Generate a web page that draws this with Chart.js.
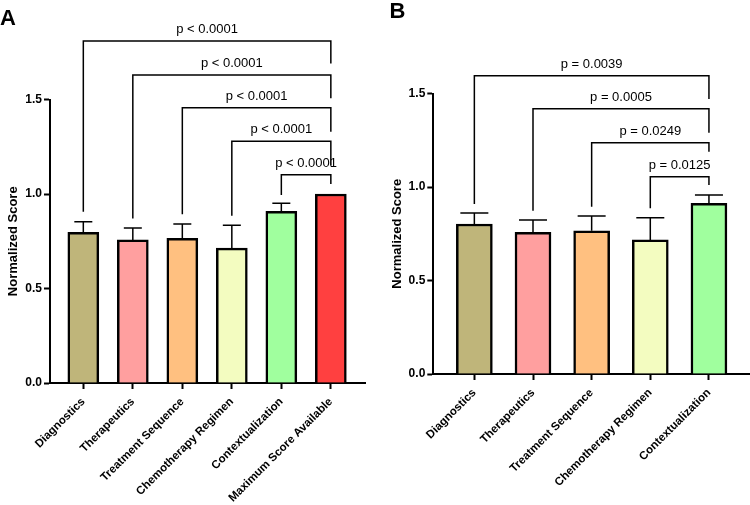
<!DOCTYPE html>
<html><head><meta charset="utf-8">
<script src="https://cdn.jsdelivr.net/npm/chart.js@4.4.1/dist/chart.umd.min.js"></script>
<style>
html,body{margin:0;padding:0;background:#fff;}
#wrap{position:relative;width:750px;height:505px;overflow:hidden;}
.pane{position:absolute;top:0;width:375px;height:505px;}
#pa{left:0;} #pb{left:375px;}
.lbl{position:absolute;font:bold 22px "Liberation Sans",Arial,sans-serif;line-height:22px;color:#000;}
</style></head>
<body><div id="wrap">
<div class="pane" id="pa"><canvas id="ca" width="375" height="505"></canvas></div>
<div class="pane" id="pb"><canvas id="cb" width="375" height="505"></canvas></div>
<div class="lbl" style="left:0;top:6.5px">A</div>
<div class="lbl" style="left:389.5px;top:0">B</div>
</div>
<script>
const FONT = '"Liberation Sans", Arial, sans-serif';

// ---- Panel A data ----
const categoriesA = ['Diagnostics','Therapeutics','Treatment Sequence','Chemotherapy Regimen','Contextualization','Maximum Score Available'];
const meansA = [0.797, 0.757, 0.766, 0.714, 0.908, 1.0];
const sdA    = [0.056, 0.063, 0.075, 0.120, 0.043, 0];
const colorsA = ['#bfb57a','#ff9f9f','#ffc080','#f3fcc0','#a0ff9e','#ff4040'];
const bracketFromA = [0, 1, 2, 3, 4];
const bracketToA   = [5, 5, 5, 5, 5];
const bracketLevelA = [1.81, 1.63, 1.457, 1.279, 1.102];
const bracketLeftEndA = [0.906, 0.871, 0.893, 0.885, 0.995];
const bracketRightEndA = [1.691, 1.506, 1.330, 1.150, 1.053];
const pLabelsA = ['p < 0.0001','p < 0.0001','p < 0.0001','p < 0.0001','p < 0.0001'];

// ---- Panel B data ----
const categoriesB = ['Diagnostics','Therapeutics','Treatment Sequence','Chemotherapy Regimen','Contextualization'];
const meansB = [0.802, 0.758, 0.766, 0.717, 0.913];
const sdB    = [0.059, 0.066, 0.079, 0.119, 0.044];
const colorsB = ['#bfb57a','#ff9f9f','#ffc080','#f3fcc0','#a0ff9e'];
const bracketFromB = [0, 1, 2, 3];
const bracketToB   = [4, 4, 4, 4];
const bracketLevelB = [1.595, 1.419, 1.237, 1.055];
const bracketLeftEndB = [0.909, 0.873, 0.895, 0.886];
const bracketRightEndB = [1.471, 1.290, 1.189, 1.011];
const pLabelsB = ['p = 0.0039','p = 0.0005','p = 0.0249','p = 0.0125'];

const yTickValues = [0, 0.5, 1.0, 1.5];

const annot = {
  id: 'annot',
  afterDatasetsDraw(chart, args, o) {
    const {ctx} = chart; const x = chart.scales.x, y = chart.scales.y;
    ctx.save();
    ctx.strokeStyle = '#000'; ctx.lineWidth = 1.5; ctx.lineCap = 'butt'; ctx.lineJoin = 'miter';
    o.means.forEach((m, i) => {
      if (!o.sds[i]) return;
      const px = x.getPixelForValue(i), y0 = y.getPixelForValue(m), y1 = y.getPixelForValue(m + o.sds[i]);
      ctx.beginPath();
      ctx.moveTo(px, y0); ctx.lineTo(px, y1);
      ctx.moveTo(px - o.capW / 2, y1); ctx.lineTo(px + o.capW / 2, y1);
      ctx.stroke();
    });
    ctx.font = '13px ' + FONT; ctx.fillStyle = '#000'; ctx.textAlign = 'center'; ctx.textBaseline = 'alphabetic';
    o.from.forEach((f, k) => {
      const xl = x.getPixelForValue(f), xr = x.getPixelForValue(o.to[k]);
      const yl = y.getPixelForValue(o.level[k]);
      ctx.beginPath();
      ctx.moveTo(xl, y.getPixelForValue(o.leftEnd[k]));
      ctx.lineTo(xl, yl); ctx.lineTo(xr, yl);
      ctx.lineTo(xr, y.getPixelForValue(o.rightEnd[k]));
      ctx.stroke();
      ctx.fillText(o.labels[k], (xl + xr) / 2, yl - 8);
    });
    ctx.restore();
  }
};

function makeChart(id, cats, means, sds, colors, cfg, br) {
  return new Chart(document.getElementById(id), {
    type: 'bar',
    data: { datasets: [{
      data: means.map((m, i) => ({x: i, y: m})),
      backgroundColor: colors, borderColor: '#000', borderWidth: 2.5,
      barThickness: cfg.barW
    }]},
    options: {
      responsive: false, animation: false, devicePixelRatio: 1,
      layout: { padding: cfg.pad },
      plugins: { legend: {display: false}, tooltip: {enabled: false},
        annot: { means, sds, capW: cfg.capW, from: br.from, to: br.to, level: br.level, leftEnd: br.leftEnd, rightEnd: br.rightEnd, labels: br.labels } },
      scales: {
        x: { type: 'linear', min: cfg.xMin, max: cfg.xMax, offset: false,
          afterBuildTicks: s => { s.ticks = cats.map((_, i) => ({value: i})); },
          ticks: { autoSkip: false, minRotation: 45, maxRotation: 45, padding: 6, color: '#000',
            font: {family: FONT, size: 11.5, weight: 'bold'}, callback: v => cats[v] },
          grid: { offset: false, drawOnChartArea: false, drawTicks: true, tickLength: 6, tickWidth: 2, color: '#000' },
          border: { display: true, color: '#000', width: 2 },
          afterFit: s => { s.height = cfg.xH; s.paddingLeft = 0; s.paddingRight = 0; }
        },
        y: { min: 0, max: 1.5,
          afterBuildTicks: s => { s.ticks = yTickValues.map(v => ({value: v})); },
          ticks: { padding: 2, color: '#000', font: {family: FONT, size: 12, weight: 'bold'}, callback: v => Number(v).toFixed(1) },
          grid: { drawOnChartArea: false, tickLength: 6, tickWidth: 2, color: '#000' },
          border: { display: true, color: '#000', width: 2 },
          title: { display: true, text: 'Normalized Score', color: '#000', font: {family: FONT, size: 13, weight: 'bold'}, padding: {top: cfg.titlePad, bottom: 0} },
          afterFit: s => { s.width = cfg.yW; }
        }
      }
    },
    plugins: [annot]
  });
}

makeChart('ca', categoriesA, meansA, sdA, colorsA,
  {barW: 31, capW: 18, xMin: -0.673, xMax: 5.69, pad: {top: 99.5, right: 10, bottom: 0, left: 0}, xH: 122, yW: 50, titlePad: 5.5},
  {from: bracketFromA, to: bracketToA, level: bracketLevelA, leftEnd: bracketLeftEndA, rightEnd: bracketRightEndA, labels: pLabelsA});
makeChart('cb', categoriesB, meansB, sdB, colorsB,
  {barW: 36, capW: 28, xMin: -0.70, xMax: 4.70, pad: {top: 93.5, right: 0, bottom: 0, left: 0}, xH: 131, yW: 58.3, titlePad: 15},
  {from: bracketFromB, to: bracketToB, level: bracketLevelB, leftEnd: bracketLeftEndB, rightEnd: bracketRightEndB, labels: pLabelsB});
</script>
</body></html>
